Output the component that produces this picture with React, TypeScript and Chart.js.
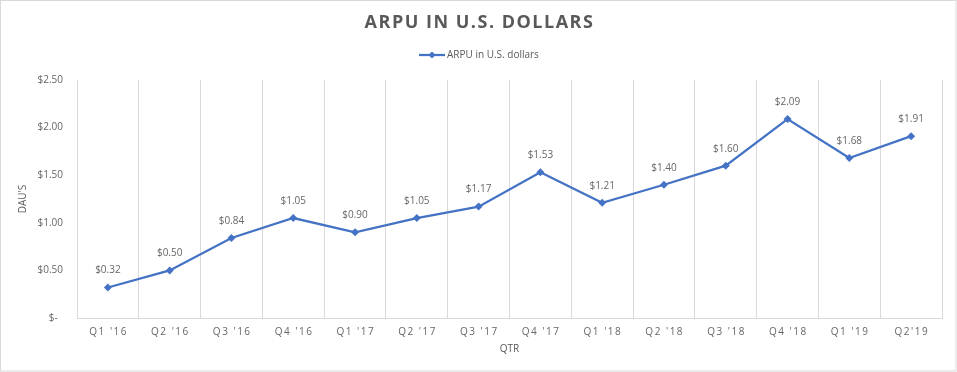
import React, { useEffect, useRef } from "react";
import { Chart, registerables } from "chart.js";

Chart.register(...registerables);

const categories: string[] = [
  "Q1 '16", "Q2 '16", "Q3 '16", "Q4 '16",
  "Q1 '17", "Q2 '17", "Q3 '17", "Q4 '17",
  "Q1 '18", "Q2 '18", "Q3 '18", "Q4 '18",
  "Q1 '19", "Q2'19",
];
const arpu: number[] = [0.32, 0.5, 0.84, 1.05, 0.9, 1.05, 1.17, 1.53, 1.21, 1.4, 1.6, 2.09, 1.68, 1.91];
const seriesName = "ARPU in U.S. dollars";
const chartTitle = "ARPU IN U.S. DOLLARS";
const yTitle = "DAU'S";
const xTitle = "QTR";
const yMin = 0;
const yMax = 2.5;
const yStep = 0.5;

const LINE = "#4472C4";
const TEXT = "#595959";
const LABEL = "#666666";
const GRID = "#d9d9d9";
const FONT = "'Open Sans', sans-serif";

const fmt = (v: number) => (v === 0 ? "$-  " : "$" + v.toFixed(2));

const decor = {
  id: "decor",
  afterDraw(chart: any) {
    const ctx = chart.ctx as CanvasRenderingContext2D;
    const W = chart.width;
    const H = chart.height;
    ctx.save();
    // outer border
    ctx.strokeStyle = GRID;
    ctx.lineWidth = 1;
    ctx.strokeRect(0.5, 0.5, W - 1.5, H - 1.5);

    // title
    ctx.fillStyle = TEXT;
    ctx.font = `bold 18px ${FONT}`;
    (ctx as any).letterSpacing = "1.5px";
    ctx.textAlign = "center";
    ctx.textBaseline = "middle";
    ctx.fillText(chartTitle, W / 2 + 1, 23);

    // legend
    (ctx as any).letterSpacing = "0px";
    ctx.font = `10px ${FONT}`;
    const lx = 419, ly = 55;
    ctx.strokeStyle = LINE;
    ctx.lineWidth = 2.25;
    ctx.beginPath();
    ctx.moveTo(lx, ly);
    ctx.lineTo(lx + 26, ly);
    ctx.stroke();
    ctx.fillStyle = LINE;
    ctx.beginPath();
    ctx.moveTo(lx + 13, ly - 3.5);
    ctx.lineTo(lx + 16.5, ly);
    ctx.lineTo(lx + 13, ly + 3.5);
    ctx.lineTo(lx + 9.5, ly);
    ctx.closePath();
    ctx.fill();
    ctx.fillStyle = TEXT;
    ctx.textAlign = "left";
    ctx.fillText(seriesName, lx + 28, ly);

    // x tick labels
    const xs = chart.scales.x;
    ctx.font = `10px ${FONT}`;
    (ctx as any).letterSpacing = "1.5px";
    ctx.textAlign = "center";
    ctx.fillStyle = LABEL;
    (chart.data.labels as string[]).forEach((lab, i) => {
      ctx.fillText(lab, xs.getPixelForValue(i) + 0.75, 332);
    });
    (ctx as any).letterSpacing = "0px";
    ctx.restore();
  },
  afterDatasetsDraw(chart: any) {
    const ctx = chart.ctx as CanvasRenderingContext2D;
    const meta = chart.getDatasetMeta(0);
    const data = chart.data.datasets[0].data as number[];
    ctx.save();
    ctx.font = `10px ${FONT}`;
    ctx.fillStyle = LABEL;
    ctx.textAlign = "center";
    ctx.textBaseline = "middle";
    meta.data.forEach((pt: any, i: number) => {
      ctx.fillText(fmt(data[i]), pt.x, pt.y - 17);
    });
    ctx.restore();
  },
};

export default function App() {
  const ref = useRef<HTMLCanvasElement | null>(null);
  useEffect(() => {
    if (!ref.current) return;
    const chart = new Chart(ref.current, {
      type: "line",
      data: {
        labels: categories,
        datasets: [
          {
            label: seriesName,
            data: arpu,
            borderColor: LINE,
            backgroundColor: LINE,
            borderWidth: 2.25,
            pointStyle: "rectRot",
            pointRadius: 4,
            pointBorderWidth: 0,
            pointBackgroundColor: LINE,
            tension: 0,
          },
        ],
      },
      options: {
        responsive: false,
        maintainAspectRatio: false,
        animation: false,
        layout: { padding: { left: 0, right: 15, top: 80, bottom: 0 } },
        plugins: {
          legend: { display: false },
          title: { display: false },
          tooltip: { enabled: false },
        },
        scales: {
          x: {
            type: "category",
            offset: true,
            grid: { display: true, color: GRID, lineWidth: 1, offset: true, drawTicks: false },
            border: { display: true, color: GRID, width: 1 },
            ticks: { display: false },
            title: {
              display: true,
              text: xTitle,
              color: TEXT,
              font: { family: FONT, size: 10 },
              padding: { top: 0, bottom: 17 },
            },
            afterFit: (s: any) => {
              s.height = 54;
            },
          },
          y: {
            min: yMin,
            max: yMax,
            grid: { display: false, drawTicks: false },
            border: { display: false },
            ticks: {
              stepSize: yStep,
              padding: 14,
              color: LABEL,
              font: { family: FONT, size: 10 },
              callback: (v: any) => fmt(Number(v)),
            },
            title: {
              display: true,
              text: yTitle,
              color: TEXT,
              font: { family: FONT, size: 10 },
              padding: { top: 17, bottom: 0 },
            },
            afterFit: (s: any) => {
              s.width = 77;
            },
          },
        },
      },
      plugins: [decor],
    });
    return () => chart.destroy();
  }, []);
  return (
    <div style={{ position: "absolute", left: 0, top: 0, width: 957, height: 372, background: "#fff" }}>
      <canvas ref={ref} width={957} height={372} style={{ display: "block" }} />
    </div>
  );
}
